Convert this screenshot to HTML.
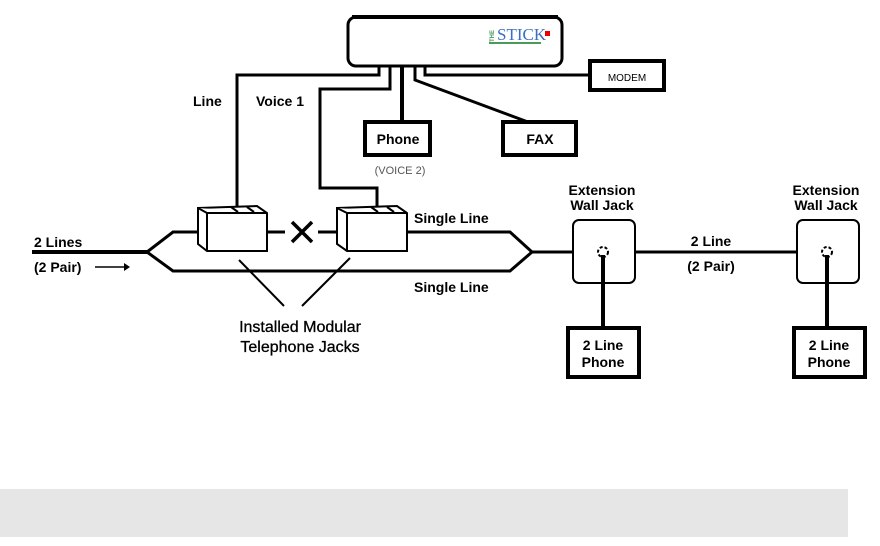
<!DOCTYPE html>
<html><head><style>
body{margin:0;background:#fff;width:880px;height:546px;overflow:hidden}
svg{display:block}
text{font-family:"Liberation Sans",Arial,sans-serif;font-weight:bold;font-size:14px;fill:#000}
</style></head><body>
<svg width="880" height="546" viewBox="0 0 880 546">
<g fill="none" stroke="#000" stroke-width="3" stroke-linejoin="miter">
<rect x="348" y="17" width="214" height="49" rx="8" fill="#fff"/>
<line x1="352" y1="17" x2="558" y2="17" stroke-width="4"/>
<polyline points="379,66 379,75 237,75 237,207"/>
<polyline points="390,66 390,89 320,89 320,188 377,188 377,208"/>
<line x1="402" y1="66" x2="402" y2="122" stroke-width="4"/>
<polyline points="415,66 415,80 528,122"/>
<polyline points="425,66 425,75 590,75"/>
<rect x="365" y="122" width="65" height="33" stroke-width="4" fill="#fff"/>
<rect x="503" y="122" width="73" height="33" stroke-width="4" fill="#fff"/>
<rect x="590" y="61" width="74" height="29" stroke-width="4" fill="#fff"/>
<line x1="32" y1="252" x2="147" y2="252" stroke-width="4"/>
<polyline points="147,252 173,232 198,232"/>
<polyline points="267,232 285,232"/>
<polyline points="318,232 338,232"/>
<polyline points="407,232 510,232 532,252 573,252"/>
<polyline points="147,252 173,271 510,271 532,252"/>
<line x1="635" y1="252" x2="797" y2="252"/>
<line x1="292" y1="222" x2="312" y2="242" stroke-width="3.5"/>
<line x1="312" y1="222" x2="292" y2="242" stroke-width="3.5"/>
<line x1="95" y1="267" x2="124" y2="267" stroke-width="1.5"/>
<g stroke-width="2" fill="#fff">
<polygon points="198,208 257,206 267,213 267,251 207,251 198,244"/>
<polyline points="198,208 207,213 267,213"/><line x1="207" y1="213" x2="207" y2="251"/>
<line x1="231" y1="207" x2="238" y2="212"/><line x1="247" y1="207" x2="254" y2="212"/>
<polygon points="337,208 397,206 407,213 407,251 347,251 337,244"/>
<polyline points="337,208 347,213 407,213"/><line x1="347" y1="213" x2="347" y2="251"/>
<line x1="371" y1="207" x2="378" y2="212"/><line x1="387" y1="207" x2="394" y2="212"/>
</g>
<line x1="284" y1="306" x2="239" y2="260" stroke-width="2"/>
<line x1="302" y1="306" x2="350" y2="258" stroke-width="2"/>
<rect x="573" y="220" width="62" height="63" rx="6" stroke-width="2" fill="#fff"/>
<rect x="797" y="220" width="62" height="63" rx="6" stroke-width="2" fill="#fff"/>
<line x1="603" y1="255" x2="603" y2="327" stroke-width="4"/>
<line x1="827" y1="255" x2="827" y2="327" stroke-width="4"/>
<circle cx="603" cy="252" r="5" stroke-width="2" stroke-dasharray="3 2"/>
<circle cx="827" cy="252" r="5" stroke-width="2" stroke-dasharray="3 2"/>
<rect x="568" y="328" width="71" height="49" stroke-width="4" fill="#fff"/>
<rect x="794" y="328" width="71" height="49" stroke-width="4" fill="#fff"/>
</g>
<polygon points="124,263 130,267 124,271" fill="#000"/>
<text x="497" y="40" style="font-family:'Liberation Serif',serif;font-weight:normal;font-size:17px;fill:#3a6fc4">STICK</text>
<line x1="489" y1="43" x2="541" y2="43" stroke="#4a9a5a" stroke-width="2"/>
<text x="494" y="42" transform="rotate(-90 494 42)" style="font-size:6px;fill:#4a9a5a">THE</text>
<rect x="545" y="31" width="5" height="5" fill="#e00"/>
<text x="193" y="106">Line</text>
<text x="256" y="106">Voice 1</text>
<text x="398" y="144" text-anchor="middle">Phone</text>
<text x="540" y="144" text-anchor="middle">FAX</text>
<text x="627" y="81" text-anchor="middle" style="font-size:10px;font-weight:normal">MODEM</text>
<text x="400" y="174" text-anchor="middle" style="font-size:11px;font-weight:normal;fill:#555">(VOICE 2)</text>
<text x="34" y="247">2 Lines</text>
<text x="34" y="272">(2 Pair)</text>
<text x="414" y="223">Single Line</text>
<text x="414" y="292">Single Line</text>
<text x="300" y="332" text-anchor="middle" style="font-size:16px;font-weight:normal;stroke:#000;stroke-width:0.3">Installed Modular</text>
<text x="300" y="352" text-anchor="middle" style="font-size:16px;font-weight:normal;stroke:#000;stroke-width:0.3">Telephone Jacks</text>
<text x="602" y="195" text-anchor="middle">Extension</text>
<text x="602" y="210" text-anchor="middle">Wall Jack</text>
<text x="826" y="195" text-anchor="middle">Extension</text>
<text x="826" y="210" text-anchor="middle">Wall Jack</text>
<text x="711" y="246" text-anchor="middle">2 Line</text>
<text x="711" y="271" text-anchor="middle">(2 Pair)</text>
<text x="603" y="350" text-anchor="middle">2 Line</text>
<text x="603" y="367" text-anchor="middle">Phone</text>
<text x="829" y="350" text-anchor="middle">2 Line</text>
<text x="829" y="367" text-anchor="middle">Phone</text>
<rect x="0" y="489" width="848" height="48" fill="#e6e6e6"/>
</svg>
</body></html>
